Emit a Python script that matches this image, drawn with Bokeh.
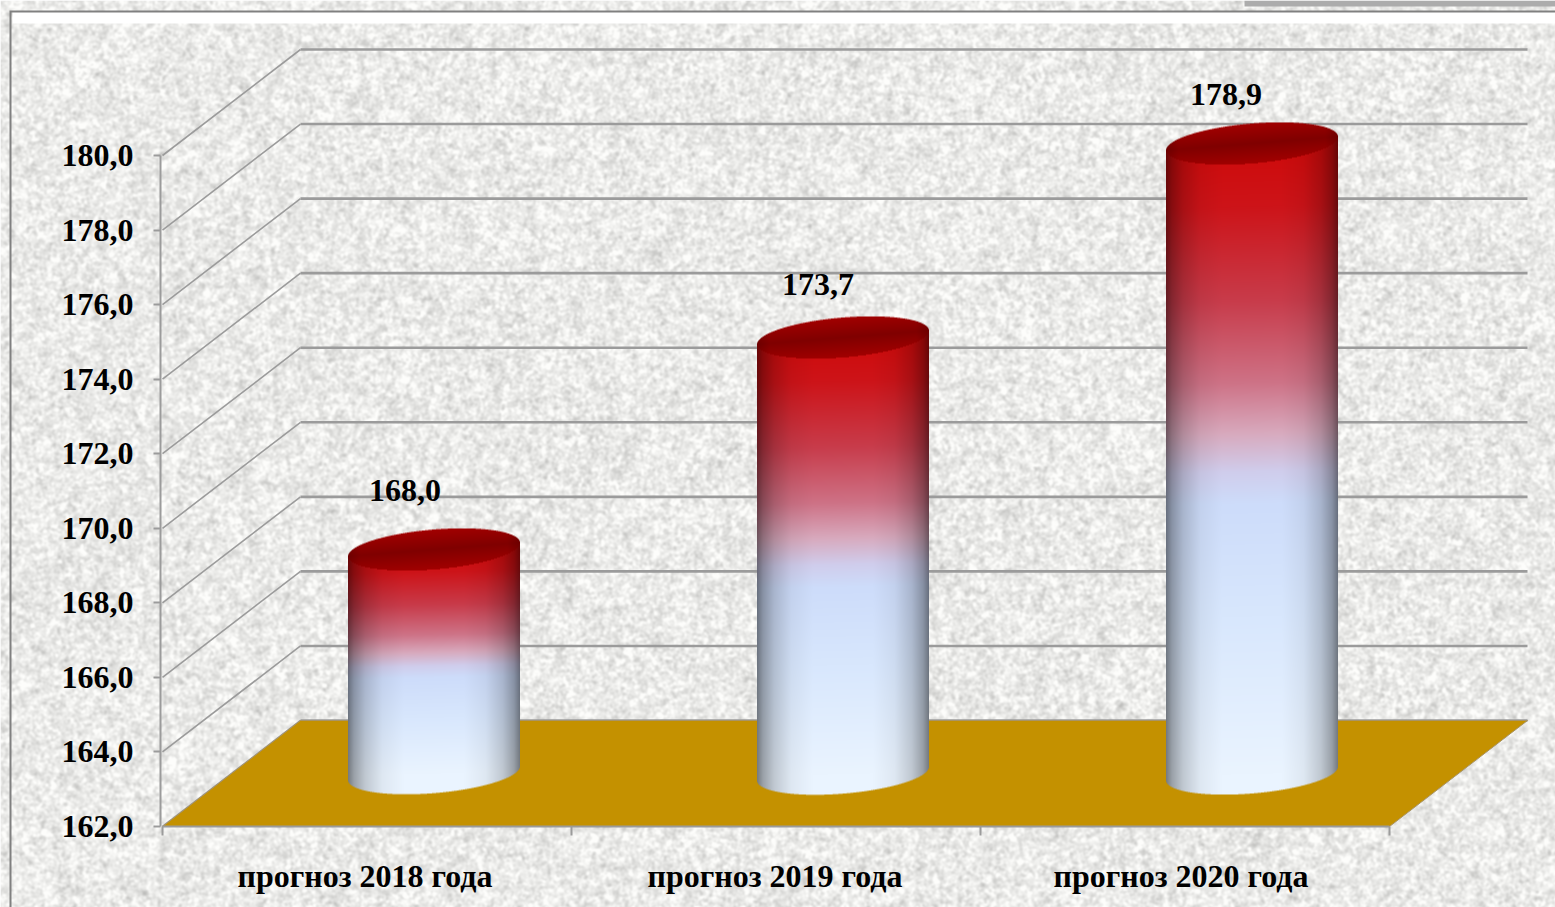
import numpy as np
from bokeh.plotting import figure
from bokeh.models import ColumnDataSource, LinearAxis, FixedTicker, Range1d
from bokeh.core.properties import value
from bokeh.embed import file_html
from bokeh.resources import INLINE

categories = ["прогноз 2018 года", "прогноз 2019 года", "прогноз 2020 года"]
values = [168.0, 173.7, 178.9]
value_labels = ["168,0", "173,7", "178,9"]
y_ticks = [162, 164, 166, 168, 170, 172, 174, 176, 178, 180]
y_tick_labels = ["162,0", "164,0", "166,0", "168,0", "170,0", "172,0", "174,0", "176,0", "178,0", "180,0"]
x_ticks = [0, 1, 2, 3]

W, H = 1555, 907
X0, PPU_X = 162, 409.0     # page px of category 0, px per category
Y0, PPU_Y = 826, 671 / 18  # page px of value 162, px per value unit
DEPTH_X, DEPTH_Y = 138 / PPU_X, 106 / PPU_Y
SERIF = value("Liberation Serif")
GRID = "#9b9b9b"

x_range = Range1d(-X0 / PPU_X, (W - X0) / PPU_X)
y_range = Range1d(162 - (H - Y0) / PPU_Y, 162 + Y0 / PPU_Y)

p = figure(width=W, height=H, x_range=x_range, y_range=y_range, output_backend="svg",
           toolbar_location=None, x_axis_type=None, y_axis_type=None, min_border=0,
           outline_line_color=None)
p.grid.visible = False


def packed(rgba):
    return rgba.astype(np.uint8).copy().view(np.uint32).reshape(rgba.shape[:2])


def texture():
    yy, xx = np.mgrid[0:H, 0:W].astype(float)
    def speck(a, b):
        v = np.sin(xx * a + yy * b) * 43758.5453
        return v - np.floor(v)
    def blur(n, r):
        f = np.fft.rfft2(n)
        fy = np.fft.fftfreq(H)[:, None]
        fx = np.fft.rfftfreq(W)[None, :]
        return np.fft.irfft2(f * np.exp(-2 * (np.pi * r) ** 2 * (fx ** 2 + fy ** 2)), s=(H, W))
    fine = blur(speck(12.9898, 78.233), 1.2)
    mid = blur(speck(39.346, 11.135), 2.6)
    fine = (fine - fine.mean()) / fine.std()
    mid = (mid - mid.mean()) / mid.std()
    g = 235 + 9 * fine + 5 * mid
    g = np.clip(g, 185, 253)
    rgba = np.zeros((H, W, 4), dtype=np.uint8)
    rgba[..., 0] = g
    rgba[..., 1] = g
    rgba[..., 2] = g - 2
    rgba[..., 3] = 255
    # grey bar at the top right, white band and grey frame of the slide panel
    rgba[0:6, 1244:, :3] = 172
    rgba[12:23, 12:, :3] = 255
    rgba[10:12, 9:, :3] = 128
    rgba[10:, 9:11, :3] = 128
    return packed(rgba[::-1])


p.image_rgba(image=[texture()], x=[x_range.start], y=[y_range.start],
             dw=[x_range.end - x_range.start], dh=[y_range.end - y_range.start])

# walls
p.multi_line(xs=[[0, DEPTH_X] for _ in y_ticks],
             ys=[[v, v + DEPTH_Y] for v in y_ticks], line_color=GRID, line_width=1.6)
p.multi_line(xs=[[DEPTH_X, 3 + DEPTH_X] for _ in y_ticks],
             ys=[[v + DEPTH_Y, v + DEPTH_Y] for v in y_ticks], line_color=GRID, line_width=2.6)

# floor
p.patch(x=[0, 3, 3 + DEPTH_X, DEPTH_X], y=[162, 162, 162 + DEPTH_Y, 162 + DEPTH_Y],
        fill_color="#c49100", line_color="#a89468", line_width=1)


def cylinder(v):
    a, b, s, pad = 86.0, 20.0, 0.08, 10
    span = (v - 162) * PPU_Y
    nx = int(2 * a + 4)
    ny = int(round(span + 2 * (b + pad)))
    top = b + pad
    bot = top + span

    def inside(x, y):
        r_top = (x / a) ** 2 + ((y - top + s * x) / b) ** 2
        r_bot = (x / a) ** 2 + ((y - bot + s * x) / b) ** 2
        body = (np.abs(x) < a) & (y > top - s * x) & (y < bot - s * x)
        return r_top, body | (r_top < 1) | (r_bot < 1)

    k = 3
    ys, xs = np.mgrid[0:ny * k, 0:nx * k].astype(float)
    xs = (xs + .5) / k - nx / 2
    ys = (ys + .5) / k
    _, m = inside(xs, ys)
    alpha = m.reshape(ny, k, nx, k).mean(axis=(1, 3))

    y, x = np.mgrid[0:ny, 0:nx].astype(float)
    x = x + .5 - nx / 2
    y = y + .5
    r_top, _ = inside(x, y)
    t = np.clip((y - top + 0.3 * s * x) / span, 0, 1)
    st = [0, .1, .25, .38, .46, .52, .57, .75, 1]
    col = np.stack([
        np.interp(t, st, [205, 205, 200, 206, 216, 208, 205, 216, 234]),
        np.interp(t, st, [10, 20, 60, 115, 170, 205, 220, 231, 244]),
        np.interp(t, st, [10, 25, 75, 135, 190, 236, 250, 253, 255]),
    ], axis=-1)
    # darken the body toward the silhouette
    u = np.abs(x) / a
    shade = np.interp(u, [0, .35, .6, .8, .93, 1], [1, 1, .95, .82, .66, .5])
    col = col * shade[..., None]
    # the cap
    capc = np.stack([128 + 34 * np.clip(np.abs(y - top + s * x) / b, 0, 1),
                     0 * u, 0 * u], axis=-1)
    capc[..., 0] *= np.interp(u, [0, .85, 1], [1, 1, .85])
    col = np.where((r_top < 1)[..., None], capc, col)
    rgba = np.dstack([np.clip(col, 0, 255), alpha * 255])
    return packed(rgba[::-1]), nx, ny, b + pad


images, img_x, img_y, img_w, img_h = [], [], [], [], []
for i, v in enumerate(values):
    im, nx, ny, extra = cylinder(v)
    images.append(im)
    img_x.append(i + .5 + DEPTH_X / 2 - (nx / 2 + 2) / PPU_X)
    img_y.append(162 + DEPTH_Y / 2 - extra / PPU_Y)
    img_w.append(nx / PPU_X)
    img_h.append(ny / PPU_Y)
p.image_rgba(image=images, x=img_x, y=img_y, dw=img_w, dh=img_h)

# axes drawn in place on the front edge of the chart
left = LinearAxis(fixed_location=-2 / PPU_X, ticker=FixedTicker(ticks=y_ticks), bounds=(162, 180),
                  major_label_overrides=dict(zip(y_ticks, y_tick_labels)),
                  axis_line_color=GRID, axis_line_width=2, major_tick_line_color=GRID,
                  major_tick_line_width=2, major_tick_in=0, major_tick_out=7,
                  minor_tick_line_color=None, major_label_standoff=20,
                  major_label_text_font="Liberation Serif", major_label_text_font_style="bold",
                  major_label_text_font_size="32px", major_label_text_color="#000000")
p.add_layout(left, "left")
bottom = LinearAxis(fixed_location=162, ticker=FixedTicker(ticks=x_ticks), bounds=(0, 3),
                    major_label_overrides={t: "" for t in x_ticks},
                    axis_line_color=GRID, axis_line_width=2, major_tick_line_color=GRID,
                    major_tick_line_width=2, major_tick_in=0, major_tick_out=9,
                    minor_tick_line_color=None, major_label_text_font_size="1px")
p.add_layout(bottom, "below")

cat_src = ColumnDataSource(dict(x=[i + .5 for i in range(3)], y=[162] * 3, t=categories, dx=[-2, -1, -4]))
p.text(x="x", y="y", text="t", x_offset="dx", y_offset=49, source=cat_src, text_font=SERIF,
       text_font_style="bold", text_font_size="32px", text_color="#000000",
       text_align="center", text_baseline="middle")

lab_src = ColumnDataSource(dict(x=[i + .5 + DEPTH_X / 2 for i in range(3)],
                                y=[v + DEPTH_Y / 2 for v in values], t=value_labels,
                                dx=[-31, -27, -28], dy=[-59, -53, -49]))
p.text(x="x", y="y", text="t", x_offset="dx", y_offset="dy", source=lab_src, text_font=SERIF,
       text_font_style="bold", text_font_size="32px", text_color="#000000",
       text_align="center", text_baseline="middle")

open("out.html", "w").write(file_html(p, INLINE))
